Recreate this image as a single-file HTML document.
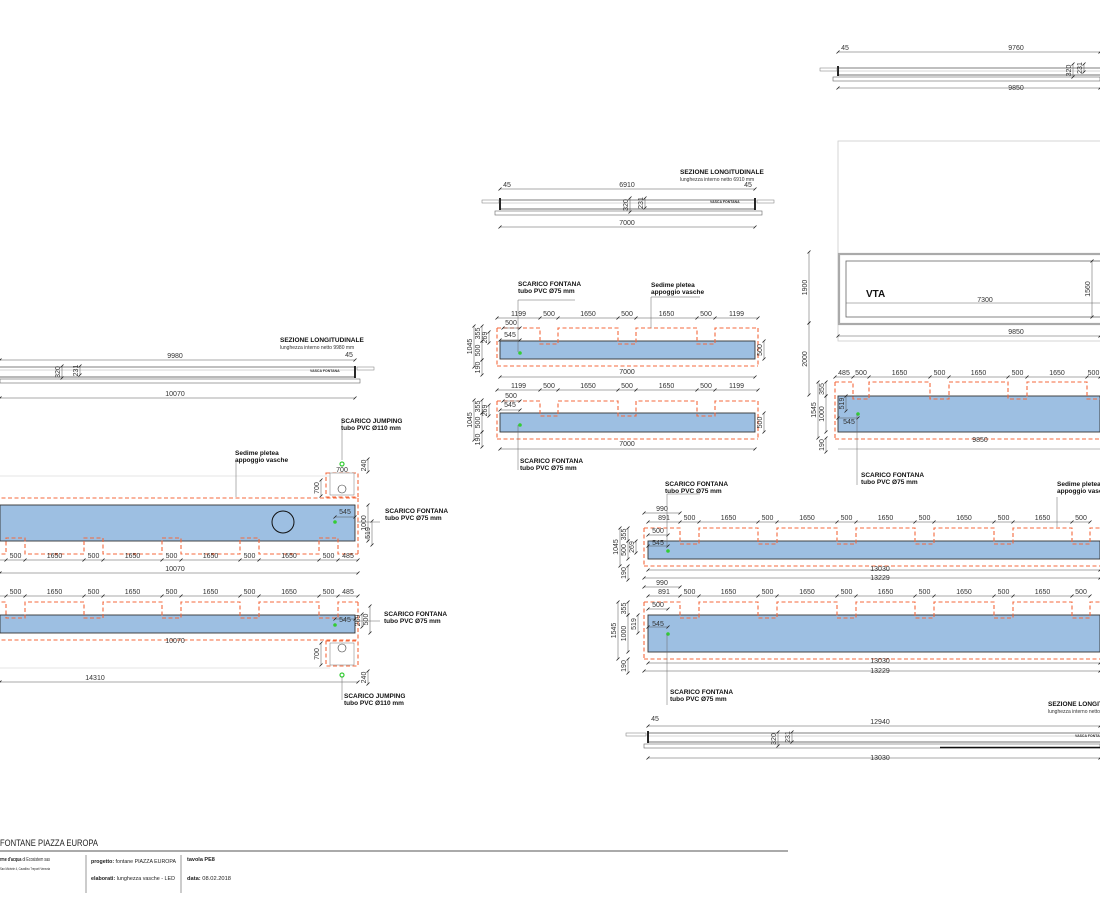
<!DOCTYPE html>
<html><head><meta charset="utf-8"><style>
html,body{margin:0;padding:0;background:#fff;width:1100px;height:900px;overflow:hidden}
svg{display:block}
text{font-family:"Liberation Sans",sans-serif;fill:#222}
.d{font-size:7px;fill:#333}
.b{font-size:6.5px;font-weight:bold;fill:#111}
</style></head><body>
<svg id="s" width="1100" height="900" viewBox="0 0 1100 900" xmlns="http://www.w3.org/2000/svg">
<g id="g" stroke-linecap="butt"></g>
<!-- title block -->
<text x="0" y="846" style="font-size:9.5px" textLength="98" lengthAdjust="spacingAndGlyphs">FONTANE PIAZZA EUROPA</text>
<line x1="0" y1="851" x2="788" y2="851" stroke="#777" stroke-width="1.3"/>
<text x="0" y="861" style="font-size:5.5px" textLength="50" lengthAdjust="spacingAndGlyphs"><tspan font-weight="bold">rme d'acqua</tspan> di Ecosistem sas</text>
<text x="0" y="870" style="font-size:4px" textLength="50" lengthAdjust="spacingAndGlyphs">San Michele 4, Cavallino Treporti Venezia</text>
<line x1="86" y1="855" x2="86" y2="893" stroke="#555" stroke-width="0.6"/>
<text x="91" y="863" style="font-size:5.5px" textLength="85" lengthAdjust="spacingAndGlyphs"><tspan font-weight="bold">progetto:</tspan> fontane PIAZZA EUROPA</text>
<text x="91" y="880" style="font-size:5.5px" textLength="84" lengthAdjust="spacingAndGlyphs"><tspan font-weight="bold">elaborati:</tspan> lunghezza vasche - LED</text>
<line x1="181" y1="855" x2="181" y2="893" stroke="#555" stroke-width="0.6"/>
<text x="187" y="861" style="font-size:5.5px;font-weight:bold">tavola PE8</text>
<text x="187" y="880" style="font-size:5.5px" textLength="44" lengthAdjust="spacingAndGlyphs"><tspan font-weight="bold">data:</tspan> 08.02.2018</text>
</svg>
<script>
var g=document.getElementById('g'),NS='http://www.w3.org/2000/svg';
function el(t,a,txt){var e=document.createElementNS(NS,t);for(var k in a)e.setAttribute(k,a[k]);if(txt!==undefined)e.textContent=txt;g.appendChild(e);return e;}
function L(x1,y1,x2,y2,c,w,da){var a={x1:x1,y1:y1,x2:x2,y2:y2,stroke:c||'#444','stroke-width':w||0.6};if(da)a['stroke-dasharray']=da;return el('line',a);}
function T(x,y,s,cls,anc,rot){var a={x:x,y:y,'class':cls||'d','text-anchor':anc||'middle'};if(rot)a.transform='rotate(-90 '+x+' '+y+')';return el('text',a,s);}
function tick(x,y){L(x-1.5,y+1.5,x+1.5,y-1.5,'#222',0.8);}
function hd(x1,x2,y,lab){L(x1,y,x2,y,'#555',0.5);tick(x1,y);tick(x2,y);if(lab)T((x1+x2)/2,y-2,lab);}
function chain(xs,labs,y){L(xs[0],y,xs[xs.length-1],y,'#555',0.5);for(var i=0;i<xs.length;i++)tick(xs[i],y);for(i=0;i<labs.length;i++)if(labs[i])T((xs[i]+xs[i+1])/2,y-2,labs[i]);}
function vd(x,y1,y2,lab){L(x,y1,x,y2,'#555',0.5);tick(x,y1);tick(x,y2);if(lab)T(x-2,(y1+y2)/2,lab,'d','middle',1);}
var OR='#f4683c',DA='4 2.5';
function tank(bx0,bx1,bt,bb,dx0,dx1,dt,db,notches,top){
 el('rect',{x:bx0,y:bt,width:bx1-bx0,height:bb-bt,fill:'#9dbfe2',stroke:'#333','stroke-width':0.9});
 var ny=top?dt:db, in_=top?bt+3:bb-3, oth=top?db:dt;
 var p='M'+dx0+' '+ny;
 notches.forEach(function(n){p+=' L'+n[0]+' '+ny+' L'+n[0]+' '+in_+' L'+n[1]+' '+in_+' L'+n[1]+' '+ny;});
 p+=' L'+dx1+' '+ny;
 el('path',{d:p,fill:'none',stroke:OR,'stroke-width':1.1,'stroke-dasharray':DA});
 L(dx0,oth,dx1,oth,OR,1.1,DA);
 L(dx0,dt,dx0,db,OR,1.1,DA);L(dx1,dt,dx1,db,OR,1.1,DA);
}
function gdot(x,y){el('circle',{cx:x,cy:y,r:1.8,fill:'#3c3'});}
function section(x0,x1,yt,yb,sx0,sx1,thick){
 L(x0,yt,x1,yt,'#555',0.7);L(x0,yt+3,x1,yt+3,'#999',0.4);L(x0,yb,x1,yb,'#444',0.8);
 el('rect',{x:sx0,y:yb+2,width:sx1-sx0,height:4,fill:'none',stroke:'#666','stroke-width':0.6});
 if(thick)L(thick,yb+5.5,sx1,yb+5.5,'#111',1.6);
}
// top-right section
section(838,1100,68,75,833,1100);
L(838,66,838,76,'#111',1.8);
el('rect',{x:820,y:68,width:17,height:3,fill:'none',stroke:'#777','stroke-width':0.5});
hd(838,1100,52,'');T(1016,50,'9760');T(845,50,'45');
hd(838,1100,88,'');T(1016,90,'9850');
vd(1073,64,77,'320');vd(1084,64,72,'231');
// middle section
T(680,174,'SEZIONE LONGITUDINALE','b','start');
T(680,181,'lunghezza interno netto 6910 mm','d','start').setAttribute('style','font-size:5px');
section(500,755,200,209,495,762);
L(500,198,500,210,'#111',1.8);L(755,198,755,210,'#111',1.8);
el('rect',{x:482,y:200,width:17,height:3,fill:'none',stroke:'#777','stroke-width':0.5});
el('rect',{x:757,y:200,width:17,height:3,fill:'none',stroke:'#777','stroke-width':0.5});
hd(500,755,189,'');T(627,187,'6910');T(507,187,'45');T(748,187,'45');
hd(500,755,227,'');T(627,225,'7000');
vd(630,198,212,'320');vd(645,198,208,'231');
T(710,203,'VASCA FONTANA','d','start').setAttribute('style','font-size:3.5px;font-weight:bold');
// middle tanks
var mn=[[540,558],[618,636],[697,715]];
tank(500,755,341,359,497,758,328,366,mn,true);
tank(500,755,413,432,497,758,401,439,mn,true);
[318,390].forEach(function(y){chain([497,540,558,618,636,697,715,758],['1199','500','1650','500','1650','500','1199'],y);});
hd(500,755,377,'');T(627,374,'7000');hd(500,755,449,'');T(627,446,'7000');
hd(503,520,328,'');T(511,325,'500');hd(503,520,401,'');T(511,398,'500');
hd(500,520,340,'');T(510,337,'545');hd(500,520,410,'');T(510,407,'545');
vd(474,326,367,'1045');vd(482,326,341,'355');vd(482,341,360,'500');vd(489,332,343,'269');vd(482,360,375,'190');
vd(474,400,440,'1045');vd(482,400,413,'355');vd(482,413,432,'500');vd(489,405,416,'269');vd(482,432,447,'190');
vd(764,341,359,'500');vd(764,413,432,'500');
gdot(520,353);gdot(520,425);
L(518,300,518,352,'#666',0.5);L(518,300,575,300,'#666',0.5);T(518,286,'SCARICO FONTANA','b','start');T(518,293,'tubo PVC Ø75 mm','b','start');
L(651,297,651,328,'#666',0.5);L(651,297,700,297,'#666',0.5);T(651,287,'Sedime pletea','b','start');T(651,294,'appoggio vasche','b','start');
L(518,425,518,470,'#666',0.5);T(520,463,'SCARICO FONTANA','b','start');T(520,470,'tubo PVC Ø75 mm','b','start');
// right plan VTA
el('rect',{x:838,y:141,width:270,height:200,fill:'none',stroke:'#ccc','stroke-width':0.8});
el('rect',{x:839,y:254,width:270,height:70,fill:'none',stroke:'#aaa','stroke-width':2.2});
el('rect',{x:846,y:261,width:270,height:56,fill:'#fff',stroke:'#666','stroke-width':0.8});
T(866,297,'VTA','b','start').setAttribute('style','font-size:10px;font-weight:bold');
L(846,303,1100,303,'#666',0.5);T(985,302,'7300');
hd(838,1100,336,'');T(1016,334,'9850');
vd(809,252,323,'1900');vd(809,323,395,'2000');vd(1092,261,317,'1560');
tank(838,1100,396,432,835,1110,382,439,[[853,869],[930,949],[1008,1027],[1087,1105]],true);
chain([835,853,869,930,949,1008,1027,1087,1100],['485','500','1650','500','1650','500','1650','500'],377);
T(980,442,'9850');L(838,449,1100,449,'#777',0.5);
vd(818,382,438,'1545');vd(826,396,432,'1000');vd(826,382,396,'355');vd(846,396,411,'519');vd(826,438,452,'190');
hd(838,858,418,'');T(849,424,'545');gdot(858,414);
L(857,414,857,485,'#666',0.5);T(861,477,'SCARICO FONTANA','b','start');T(861,484,'tubo PVC Ø75 mm','b','start');
// left section
T(280,342,'SEZIONE LONGITUDINALE','b','start');
T(280,349,'lunghezza interno netto 9980 mm','d','start').setAttribute('style','font-size:5px');
section(0,355,367,377,0,360);
L(355,366,355,378,'#111',1.8);el('rect',{x:357,y:367,width:17,height:3,fill:'none',stroke:'#777','stroke-width':0.5});
hd(0,355,360,'');T(175,358,'9980');T(349,357,'45');
hd(0,355,398,'');T(175,396,'10070');vd(62,366,378,'320');vd(80,366,375,'231');
T(310,372,'VASCA FONTANA','d','start').setAttribute('style','font-size:3.5px;font-weight:bold');
// left tanks
var ln=[[6,25],[84,103],[162,181],[240,259],[319,338]];
tank(0,355,505,541,-5,358,498,554,ln,false);
el('rect',{x:326,y:473,width:32,height:24,fill:'none',stroke:OR,'stroke-width':1.1,'stroke-dasharray':DA});
el('rect',{x:330,y:473,width:24,height:22,fill:'#fff',stroke:'#777','stroke-width':0.5});
el('circle',{cx:342,cy:489,r:4,fill:'none',stroke:'#333','stroke-width':0.6});
el('circle',{cx:283,cy:522,r:11,fill:'none',stroke:'#111','stroke-width':1});
el('circle',{cx:342,cy:464,r:2,fill:'none',stroke:'#3c3','stroke-width':1.2});
gdot(335,522);
chain([-5,6,25,84,103,162,181,240,259,319,338,358],['','500','1650','500','1650','500','1650','500','1650','500','485'],560);
hd(0,358,573,'');T(175,571,'10070');
L(0,476,330,476,'#ccc',0.5);
tank(0,355,615,633,-5,358,602,640,ln,true);
el('rect',{x:326,y:641,width:32,height:25,fill:'none',stroke:OR,'stroke-width':1.1,'stroke-dasharray':DA});
el('rect',{x:330,y:643,width:24,height:22,fill:'#fff',stroke:'#777','stroke-width':0.5});
el('circle',{cx:342,cy:648,r:4,fill:'none',stroke:'#333','stroke-width':0.6});
el('circle',{cx:342,cy:675,r:2,fill:'none',stroke:'#3c3','stroke-width':1.2});
gdot(335,625);
chain([-5,6,25,84,103,162,181,240,259,319,338,358],['','500','1650','500','1650','500','1650','500','1650','500','485'],596);
T(175,643,'10070');L(0,668,330,668,'#ccc',0.5);
hd(0,358,682,'');T(95,680,'14310');
hd(335,355,517,'');T(345,514,'545');hd(335,355,619,'');T(345,622,'545');
vd(368,505,541,'1000');vd(372,521,545,'519');vd(362,614,627,'269');vd(370,606,633,'500');
vd(321,480,496,'700');vd(321,643,665,'700');T(342,472,'700');vd(368,459,472,'240');vd(368,671,684,'240');
L(342,418,342,460,'#666',0.5);T(341,423,'SCARICO JUMPING','b','start');T(341,430,'tubo PVC Ø110 mm','b','start');
L(342,677,342,700,'#666',0.5);T(344,698,'SCARICO JUMPING','b','start');T(344,705,'tubo PVC Ø110 mm','b','start');
L(357,522,380,522,'#666',0.5);T(385,513,'SCARICO FONTANA','b','start');T(385,520,'tubo PVC Ø75 mm','b','start');
L(357,621,380,621,'#666',0.5);T(384,616,'SCARICO FONTANA','b','start');T(384,623,'tubo PVC Ø75 mm','b','start');
L(236,462,236,497,'#666',0.5);T(235,455,'Sedime pletea','b','start');T(235,462,'appoggio vasche','b','start');
// lower right tanks
var rn=[[680,699],[758,777],[837,856],[915,934],[994,1013],[1072,1090]];
tank(648,1100,541,559,644,1110,528,566,rn,true);
tank(648,1100,615,652,644,1110,602,659,rn,true);
[522,596].forEach(function(y){chain([648,680,699,758,777,837,856,915,934,994,1013,1072,1090],['891','500','1650','500','1650','500','1650','500','1650','500','1650','500'],y);hd(644,680,y-9,'');T(662,y-11,'990');});
hd(648,1100,570,'');T(880,571,'13030');hd(644,1100,578,'');T(880,580,'13229');
hd(648,1100,663,'');T(880,663,'13030');hd(644,1100,671,'');T(880,673,'13229');
hd(648,668,535,'');T(658,533,'500');hd(648,668,609,'');T(658,607,'500');
hd(648,668,546,'');T(658,545,'545');hd(648,668,627,'');T(658,626,'545');
vd(620,528,566,'1045');vd(628,528,541,'355');vd(628,541,559,'500');vd(636,541,553,'269');vd(628,566,580,'190');
vd(618,602,659,'1545');vd(628,615,652,'1000');vd(628,602,615,'355');vd(638,615,633,'519');vd(628,659,673,'190');
gdot(668,551);gdot(668,634);
L(667,494,667,546,'#666',0.5);L(667,494,700,494,'#666',0.5);T(665,486,'SCARICO FONTANA','b','start');T(665,493,'tubo PVC Ø75 mm','b','start');
L(667,634,667,705,'#666',0.5);T(670,694,'SCARICO FONTANA','b','start');T(670,701,'tubo PVC Ø75 mm','b','start');
L(1057,497,1057,527,'#666',0.5);T(1057,486,'Sedime pletea','b','start');T(1057,493,'appoggio vasche','b','start');
// bottom section
T(1048,706,'SEZIONE LONGITUDINALE','b','start');T(1048,713,'lunghezza interno netto','d','start').setAttribute('style','font-size:5px');
section(648,1100,733,742,644,1100,940);
L(648,731,648,743,'#111',1.8);el('rect',{x:626,y:733,width:20,height:3,fill:'none',stroke:'#777','stroke-width':0.5});
hd(648,1100,726,'');T(880,724,'12940');T(655,721,'45');
hd(648,1100,758,'');T(880,760,'13030');vd(778,732,746,'320');vd(792,732,742,'231');
T(1075,737,'VASCA FONTANA','d','start').setAttribute('style','font-size:3.5px;font-weight:bold');
</script>
</body></html>
